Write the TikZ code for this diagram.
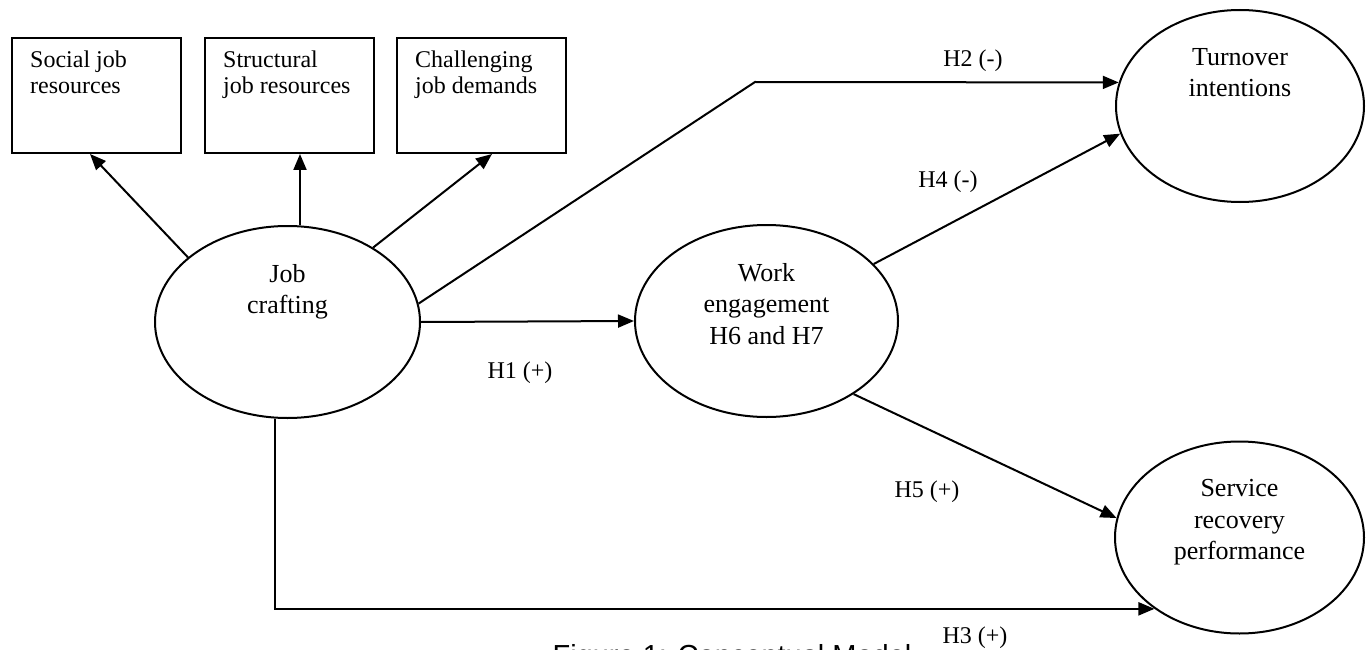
\documentclass[tikz,border=0pt]{standalone}
\usepackage{fontspec}
\setmainfont{Liberation Serif}
\newfontfamily\capfont{Liberation Sans}
\usepackage{tikz}
\usetikzlibrary{shapes.geometric, arrows.meta}
\tikzstyle{factor} = [rectangle, minimum width=169pt, minimum height=115pt, inner sep=0pt, draw=black, line width=2pt]
\tikzstyle{factortext} = [anchor=north west, inner sep=0pt, xshift=19pt, yshift=-13.5pt, align=left, font=\fontsize{24}{26}\selectfont]
\tikzstyle{construct} = [ellipse, minimum width=265pt, minimum height=192pt, inner sep=0pt, draw=black, line width=2pt]
\tikzstyle{constructtext} = [anchor=north, inner sep=0pt, yshift=-39pt, align=center, font=\fontsize{26}{31.5}\selectfont]
\tikzstyle{hyp} = [anchor=base, inner sep=0pt, font=\fontsize{24}{26}\selectfont]
\tikzstyle{arrow} = [line width=2pt, -{Triangle[length=16pt,width=13pt]}]

\begin{document}
\begin{tikzpicture}[x=1pt, y=-1pt]
        \useasboundingbox (0,0) rectangle (1366,650);

        \node (social) [factor, label={[factortext]north west:Social job\\resources}] at (96.5,95.5) {};
        \node (structural) [factor, label={[factortext]north west:Structural\\job resources}] at (289.5,95.5) {};
        \node (challenging) [factor, label={[factortext]north west:Challenging\\job demands}] at (481.5,95.5) {};

        \node (crafting) [construct, label={[constructtext]north:Job\\crafting}] at (287.5,322) {};
        \node (engagement) [construct, minimum width=263pt, label={[constructtext]north:Work\\engagement\\H6 and H7}] at (766.5,321) {};
        \node (turnover) [construct, minimum width=248pt, label={[constructtext]north:Turnover\\intentions}] at (1240,106) {};
        \node (recovery) [construct, minimum width=249pt, label={[constructtext]north:Service\\recovery\\performance}] at (1239.5,537.5) {};

        \coordinate (bend) at (755,82);

        \draw [arrow] (crafting.147) -- ([xshift=-6.5pt]social.south);
        \draw [arrow] ([xshift=10.5pt]structural.south |- crafting.north) -- ([xshift=10.5pt]structural.south);
        \draw [arrow] (crafting.41) -- ([xshift=10.5pt]challenging.south);
        \draw [arrow] (crafting.8) -- (bend) -- (turnover.169);
        \draw [arrow] (crafting.east) -- (engagement.west);
        \draw [arrow] (engagement.28) -- (turnover.193);
        \draw [arrow] (engagement.-40) -- (recovery.171);
        \draw [arrow] ([xshift=-12.5pt]crafting.south) |- (recovery.220);

        \node (h1) [hyp] at (520,378) {H1 (+)};
        \node (h2) [hyp] at (973,67) {H2 (-)};
        \node (h3) [hyp] at (975,643) {H3 (+)};
        \node (h4) [hyp] at (948,187) {H4 (-)};
        \node (h5) [hyp] at (927,497) {H5 (+)};
        \node (caption) [anchor=base, font=\capfont\fontsize{29}{32}\selectfont] at (732,665) {Figure 1: Conceptual Model};
    \end{tikzpicture}
\end{document}
